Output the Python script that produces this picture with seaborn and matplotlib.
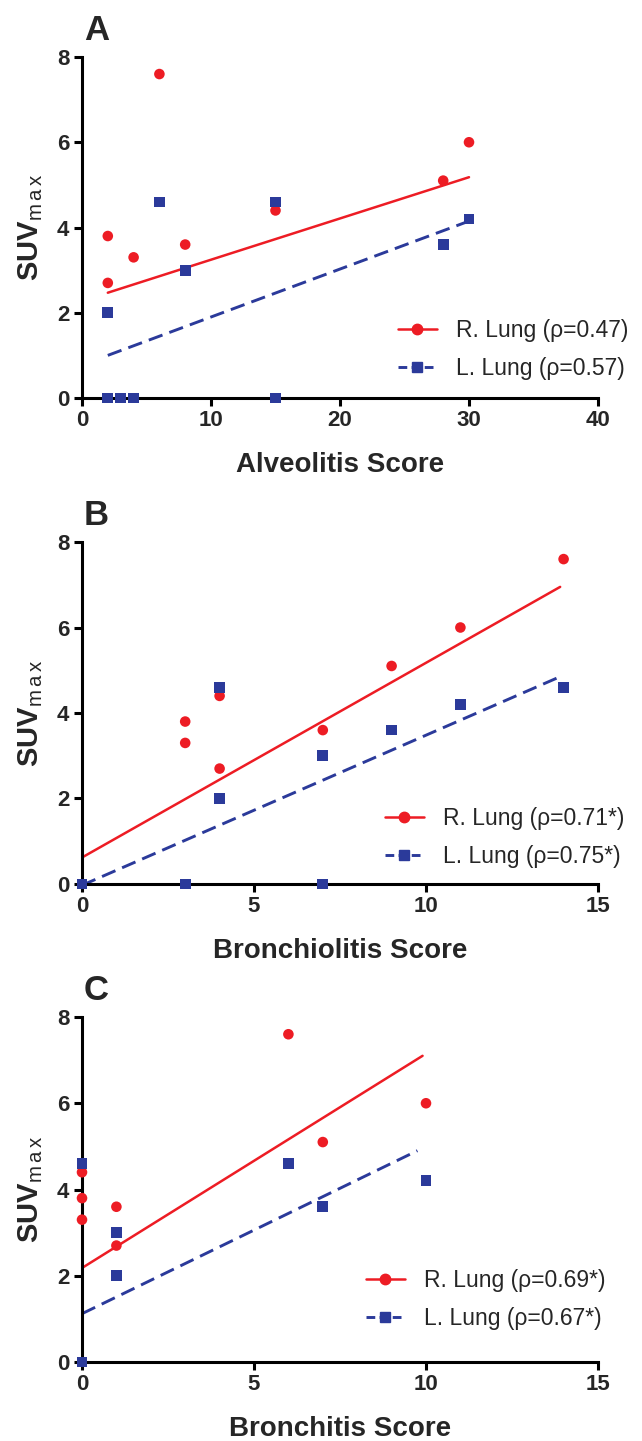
import matplotlib
matplotlib.use("Agg")
import matplotlib.pyplot as plt
import pandas as pd
import seaborn as sns
from matplotlib.lines import Line2D

# panel A - alveolitis
a_x_r = [2, 2, 4, 6, 8, 15, 28, 30]
a_y_r = [3.8, 2.7, 3.3, 7.6, 3.6, 4.4, 5.1, 6.0]
a_x_l = [2, 2, 3, 4, 6, 8, 15, 15, 28, 30]
a_y_l = [2.0, 0, 0, 0, 4.6, 3.0, 4.6, 0, 3.6, 4.2]
a_fit_xr = [2, 30]
a_fit_yr = [2.47, 5.18]
a_fit_xl = [2, 30]
a_fit_yl = [1.0, 4.15]
a_rho = ["0.47", "0.57"]

# panel B - bronchiolitis
b_x_r = [3, 3, 4, 4, 7, 9, 11, 14]
b_y_r = [3.8, 3.3, 4.4, 2.7, 3.6, 5.1, 6.0, 7.6]
b_x_l = [0, 3, 4, 4, 7, 7, 9, 11, 14]
b_y_l = [0, 0, 4.6, 2.0, 3.0, 0, 3.6, 4.2, 4.6]
b_fit_xr = [0, 13.9]
b_fit_yr = [0.62, 6.95]
b_fit_xl = [0, 13.9]
b_fit_yl = [-0.03, 4.85]
b_rho = ["0.71*", "0.75*"]

# panel C - bronchitis
c_x_r = [0, 0, 0, 1, 1, 6, 7, 10]
c_y_r = [4.4, 3.8, 3.3, 3.6, 2.7, 7.6, 5.1, 6.0]
c_x_l = [0, 0, 1, 1, 6, 7, 10]
c_y_l = [4.6, 0, 3.0, 2.0, 4.6, 3.6, 4.2]
c_fit_xr = [0, 9.9]
c_fit_yr = [2.18, 7.10]
c_fit_xl = [0, 9.75]
c_fit_yl = [1.12, 4.90]
c_rho = ["0.69*", "0.67*"]

RED = "#ED1C24"
BLUE = "#2B3A9A"
W, H = 642, 1441

sns.set_style("ticks")
plt.rcParams["font.family"] = ["Liberation Sans", "DejaVu Sans"]
plt.rcParams["mathtext.fontset"] = "custom"
plt.rcParams["mathtext.rm"] = "Liberation Sans"
plt.rcParams["mathtext.bf"] = "Liberation Sans:bold"

fig = plt.figure(figsize=(W / 100, H / 100), dpi=100)


def draw_panel(top, bottom, letter, xr, yr, xl, yl, fxr, fyr, fxl, fyl, rho,
               xmax, xstep, xlabel, leg_x, leg_y):
    ax = fig.add_axes([82 / W, 1 - bottom / H, (598 - 82) / W, (bottom - top) / H])
    red = pd.DataFrame({"x": xr, "y": yr})
    blue = pd.DataFrame({"x": xl, "y": yl})
    sns.lineplot(x=fxr, y=fyr, ax=ax, color=RED, lw=1.8, zorder=2)
    sns.lineplot(x=fxl, y=fyl, ax=ax, color=BLUE, lw=2.1, zorder=2,
                 linestyle=(0, (5, 2.5)))
    sns.scatterplot(data=red, x="x", y="y", ax=ax, color=RED, marker="o", s=58,
                    edgecolor="none", clip_on=False, zorder=3)
    sns.scatterplot(data=blue, x="x", y="y", ax=ax, color=BLUE, marker="s", s=60,
                    edgecolor="none", clip_on=False, zorder=4)
    ax.set_xlim(0, xmax)
    ax.set_ylim(0, 8)
    ax.set_xticks(range(0, xmax + 1, xstep))
    ax.set_yticks([0, 2, 4, 6, 8])
    sns.despine(ax=ax)
    for s in ["left", "bottom"]:
        ax.spines[s].set_linewidth(2.2)
        ax.spines[s].set_color("black")
    ax.tick_params(length=6, width=2.2, color="black", labelsize=16, pad=3)
    for lab in ax.get_xticklabels() + ax.get_yticklabels():
        lab.set_fontweight("bold")
    ax.set_xlabel(xlabel, fontsize=20, fontweight="bold", labelpad=15)
    ax.set_ylabel(r"$\mathbf{SUV}_{\mathrm{m\,a\,x}}$", fontsize=21, labelpad=9)
    fig.text(84 / W, 1 - (top - 17) / H, letter, fontsize=25,
             fontweight="bold", va="baseline", ha="left")
    handles = [
        Line2D([], [], color=RED, lw=1.8, marker="o", ms=7.5),
        Line2D([], [], color=BLUE, lw=2.1, marker="s", ms=7, linestyle=(0, (3, 1.5))),
    ]
    labels = [f"R. Lung (\u03c1={rho[0]})", f"L. Lung (\u03c1={rho[1]})"]
    ax.legend(handles, labels, loc="center left", bbox_to_anchor=(leg_x / W, 1 - leg_y / H),
              bbox_transform=fig.transFigure, frameon=False, numpoints=1,
              prop={"size": 16.5}, borderpad=0,
              borderaxespad=0, handlelength=1.7, handletextpad=0.85, labelspacing=0.62)
    return ax


draw_panel(57, 398, "A", a_x_r, a_y_r, a_x_l, a_y_l, a_fit_xr, a_fit_yr, a_fit_xl, a_fit_yl,
           a_rho, 40, 10, "Alveolitis Score", 398, 349.5)
draw_panel(542, 884, "B", b_x_r, b_y_r, b_x_l, b_y_l, b_fit_xr, b_fit_yr, b_fit_xl, b_fit_yl,
           b_rho, 15, 5, "Bronchiolitis Score", 385, 837.5)
draw_panel(1017, 1362, "C", c_x_r, c_y_r, c_x_l, c_y_l, c_fit_xr, c_fit_yr, c_fit_xl, c_fit_yl,
           c_rho, 15, 5, "Bronchitis Score", 366, 1299.5)

fig.savefig("out.png", dpi=100)
